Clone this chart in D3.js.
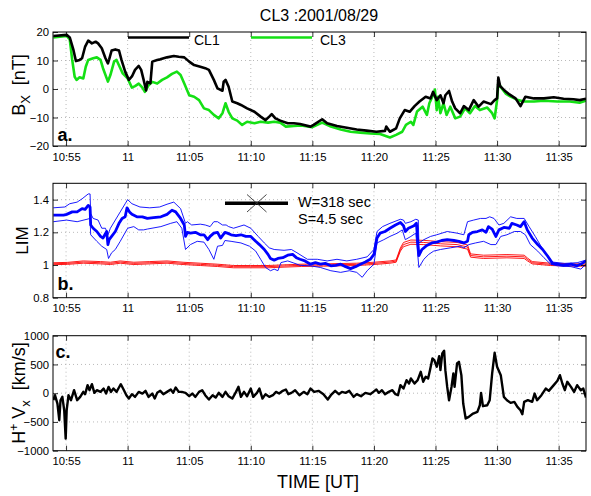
<!DOCTYPE html>
<html><head><meta charset="utf-8">
<script src="https://d3js.org/d3.v7.min.js"></script>
<style>
body{margin:0;background:#fff}
svg{display:block}
text{font-family:"Liberation Sans",Arial,Helvetica,sans-serif;fill:#000}
</style>
</head><body>
<svg id="chart" width="591" height="496"></svg>
<script>
// ---------------- DATA (time = minutes after 10:00 UT) ----------------
const xTickVals = [55,60,65,70,75,80,85,90,95];
const xTickLabels = ["10:55","11","11:05","11:10","11:15","11:20","11:25","11:30","11:35"];
const xDomain = [53.94,97.22];

const bxTicks = [-20,-10,0,10,20];
const bxTickLabels = ["\u221220","\u221210","0","10","20"];
const limTicks = [0.8,1,1.2,1.4];
const limTickLabels = ["0.8","1","1.2","1.4"];
const vxTicks = [-1000,-500,0,500,1000];
const vxTickLabels = ["\u22121000","\u2212500","0","500","1000"];

const seriesNames = ["CL1","CL3"];

// Panel a: Bx [nT]
const cl1Bx = [[53.97,18.6],[55.05,19],[55.3,18.1],[55.6,13.7],[55.8,9.8],[56.1,10.2],[56.3,10.8],[56.55,14.9],[56.8,17],[57.1,16],[57.4,16.6],[57.6,16],[57.9,14.3],[58.2,10.8],[58.4,9],[58.5,10.4],[58.7,13.5],[59.0,13.9],[59.3,13.5],[59.5,10.2],[59.8,6.1],[60.1,3.2],[60.35,4.4],[60.6,6.7],[60.9,8.1],[61.1,6.7],[61.3,3.2],[61.5,-0.5],[61.6,2.5],[61.85,2],[62.0,9.6],[62.4,10.2],[62.65,10.4],[63.2,11.1],[63.75,11.6],[64.15,11.3],[64.6,11.1],[65.0,9.6],[65.4,8.4],[65.9,7.8],[66.3,7.3],[66.6,6.7],[67.0,3.2],[67.3,0.2],[67.7,-0.6],[67.8,2.6],[67.95,3.2],[68.2,0.8],[68.5,-4.4],[68.9,-5],[69.2,-5.6],[69.7,-6.8],[70.3,-8],[70.8,-9.7],[71.2,-10.9],[71.5,-9.7],[71.7,-8.8],[72.0,-10.3],[72.4,-11.1],[73.0,-12],[73.5,-12],[74.0,-12.3],[74.85,-13.2],[75.1,-12.6],[75.8,-10.6],[76.2,-12],[77.0,-13],[77.8,-13.6],[78.6,-14.2],[79.4,-14.6],[80.2,-15],[80.9,-14.7],[81.0,-13.2],[81.3,-15],[81.8,-13.8],[82.1,-10.3],[82.5,-7.4],[82.9,-8],[83.3,-6],[83.7,-4.4],[84.2,-2.7],[84.6,-3.3],[84.8,-1],[85.1,-3.9],[85.4,-2.2],[85.65,-5],[85.8,-2.2],[86.1,-0.7],[86.35,-4.4],[86.6,-6.8],[87.0,-8.5],[87.3,-6],[87.7,-7.4],[88.1,-3.9],[88.5,-6.2],[88.9,-4.4],[89.5,-5.3],[89.8,-3.9],[90.0,-3.3],[90.1,4],[90.25,1],[90.6,-0.5],[91.0,-1.9],[91.5,-3.3],[91.9,-6],[92.3,-2.7],[93.0,-3.3],[93.8,-3.3],[94.6,-2.9],[95.4,-3.4],[96.2,-3.6],[96.7,-3.9],[97.22,-3.4]];

const cl3Bx = [[53.97,18.1],[55.05,18.6],[55.3,17.4],[55.5,10.2],[55.7,4.3],[55.85,3.2],[56.1,4.1],[56.4,3.7],[56.6,7.8],[56.8,10.2],[57.2,10.8],[57.5,11.1],[57.8,10.2],[58.0,7.3],[58.4,2.6],[58.6,4.9],[58.9,9.6],[59.1,10.2],[59.35,7.8],[59.6,5.5],[60.0,3.7],[60.35,0.5],[60.6,1],[60.9,1.9],[61.2,0.5],[61.4,-1],[61.7,1.3],[62.0,2.5],[62.4,1.9],[62.8,3.2],[63.2,4.1],[63.6,5.3],[64.0,6.1],[64.3,4.9],[64.6,1.9],[65.0,-2.2],[65.4,-2.7],[65.8,-3.9],[66.2,-6.8],[66.6,-7.4],[67.0,-9.1],[67.4,-10.3],[67.7,-8.5],[67.95,-5],[68.2,-8],[68.5,-10.3],[68.9,-11.1],[69.3,-12.6],[69.7,-11.5],[70.3,-12],[70.8,-11.5],[71.4,-11.8],[71.9,-11.5],[72.4,-11.8],[72.85,-13.2],[73.5,-13],[74.1,-12.8],[75.0,-13.4],[75.8,-11.8],[76.5,-13.2],[77.3,-14.2],[78.1,-15],[78.9,-15.3],[79.7,-15.6],[80.5,-15.8],[81.3,-17],[81.8,-16.1],[82.3,-15],[82.6,-12.6],[83.0,-11.5],[83.2,-12.6],[83.5,-7.9],[83.95,-6.2],[84.3,-9.1],[84.5,-5],[84.8,-2.2],[84.95,-0.2],[85.1,-7.4],[85.2,-2.7],[85.4,-8.5],[85.65,-5],[85.9,-9.1],[86.2,-6.2],[86.6,-10.3],[87.0,-9.7],[87.4,-6.8],[87.8,-8.5],[88.2,-6],[88.6,-7.4],[89.2,-6.5],[89.6,-8.5],[89.8,-10.3],[90.0,-3.9],[90.1,2.1],[90.4,0.1],[90.7,-1.6],[91.1,-2.7],[91.7,-3.9],[92.2,-4.4],[93.0,-4.4],[93.8,-4.1],[94.9,-4.4],[95.9,-4.4],[96.7,-4.8],[97.22,-4.1]];

// Panel b: LIM (blue: median + envelope, red: reference triplet)
const limMid = [[53.97,1.305],[54.8,1.305],[55.05,1.31],[55.5,1.325],[55.9,1.325],[56.3,1.345],[56.55,1.34],[56.8,1.365],[56.95,1.355],[57.0,1.245],[57.2,1.225],[57.5,1.205],[57.8,1.175],[58.0,1.165],[58.3,1.205],[58.4,1.125],[58.5,1.155],[58.7,1.175],[59.0,1.205],[59.3,1.255],[59.55,1.285],[59.8,1.295],[59.95,1.35],[60.15,1.325],[60.35,1.31],[60.75,1.295],[61.2,1.295],[61.6,1.285],[62.1,1.29],[62.7,1.295],[63.2,1.31],[63.6,1.335],[63.9,1.325],[64.3,1.285],[64.6,1.245],[64.7,1.175],[64.85,1.2],[65.1,1.195],[65.5,1.2],[65.9,1.185],[66.2,1.185],[66.5,1.155],[66.7,1.175],[67.0,1.195],[67.3,1.2],[67.55,1.165],[67.9,1.2],[68.1,1.195],[68.4,1.185],[68.8,1.18],[69.2,1.185],[69.6,1.175],[70.0,1.175],[70.4,1.145],[70.7,1.125],[71.1,1.095],[71.4,1.065],[71.6,1.04],[71.9,1.03],[72.2,1.04],[72.6,1.045],[73.0,1.06],[73.4,1.065],[73.7,1.045],[74.0,1.035],[74.4,1.025],[74.85,1.005],[75.25,1.015],[75.65,1.005],[76.05,1.01],[76.5,0.995],[76.9,0.998],[77.3,1.005],[77.7,0.99],[78.1,0.978],[78.5,0.99],[78.9,1.005],[79.3,1.018],[79.7,1.035],[80.0,1.065],[80.25,1.165],[80.5,1.195],[80.9,1.205],[81.3,1.225],[81.75,1.245],[82.15,1.26],[82.4,1.24],[82.55,1.205],[82.8,1.225],[83.25,1.24],[83.45,1.255],[83.65,1.058],[83.9,1.095],[84.3,1.12],[84.7,1.135],[85.1,1.14],[85.5,1.15],[85.95,1.155],[86.5,1.15],[86.9,1.145],[87.3,1.135],[87.6,1.145],[87.7,1.185],[88.0,1.2],[88.4,1.205],[88.8,1.215],[89.1,1.2],[89.3,1.235],[89.6,1.22],[89.9,1.175],[90.15,1.215],[90.55,1.23],[91.0,1.225],[91.2,1.255],[91.6,1.245],[91.9,1.235],[92.2,1.265],[92.45,1.215],[92.85,1.165],[93.3,1.125],[93.7,1.095],[94.1,1.055],[94.5,1.01],[94.9,1.005],[95.4,0.998],[96.0,1.005],[96.5,0.995],[96.9,1.01],[97.22,1.025]];

const limUp = [[53.97,1.35],[54.9,1.355],[55.3,1.375],[55.9,1.385],[56.3,1.405],[56.8,1.435],[56.95,1.435],[57.0,1.315],[57.2,1.285],[57.6,1.275],[57.9,1.225],[58.2,1.225],[58.4,1.185],[58.6,1.225],[59.0,1.275],[59.4,1.325],[59.8,1.375],[60.0,1.4],[60.35,1.375],[61.0,1.355],[61.8,1.35],[62.6,1.355],[63.2,1.372],[63.75,1.385],[64.3,1.345],[64.7,1.255],[64.85,1.265],[65.2,1.245],[65.9,1.25],[66.3,1.245],[66.7,1.235],[67.0,1.265],[67.3,1.265],[67.7,1.245],[68.0,1.245],[68.2,1.235],[68.6,1.225],[69.45,1.245],[70.0,1.225],[70.6,1.175],[71.1,1.135],[71.5,1.105],[71.9,1.095],[72.7,1.09],[73.3,1.095],[73.75,1.075],[74.6,1.035],[75.4,1.035],[76.2,1.025],[77.0,1.035],[77.8,1.025],[78.6,1.035],[79.45,1.05],[80.0,1.095],[80.25,1.205],[80.7,1.235],[81.3,1.255],[82.15,1.28],[82.4,1.275],[82.55,1.255],[83.0,1.265],[83.4,1.28],[83.6,1.275],[83.65,1.135],[84.05,1.155],[84.6,1.175],[85.1,1.185],[85.95,1.205],[86.75,1.195],[87.3,1.185],[87.6,1.265],[88.1,1.275],[88.65,1.285],[89.1,1.285],[89.4,1.295],[89.75,1.285],[90.15,1.245],[90.55,1.255],[91.1,1.295],[91.6,1.285],[92.2,1.285],[92.6,1.235],[93.1,1.175],[93.8,1.085],[94.5,1.018],[95.5,1.01],[96.5,1.014],[97.22,1.03]];

const limLo = [[53.97,1.265],[55.05,1.275],[55.9,1.265],[56.7,1.28],[56.95,1.285],[57.0,1.185],[57.5,1.145],[57.9,1.115],[58.3,1.095],[58.45,1.04],[58.7,1.075],[59.0,1.095],[59.4,1.145],[60.0,1.225],[60.5,1.235],[60.9,1.215],[61.3,1.215],[61.6,1.22],[62.7,1.235],[63.5,1.255],[64.0,1.265],[64.4,1.225],[64.7,1.095],[65.1,1.125],[65.65,1.145],[66.2,1.14],[66.6,1.095],[67.0,1.035],[67.3,1.115],[67.7,1.12],[67.9,1.15],[68.4,1.145],[69.2,1.135],[69.9,1.115],[70.4,1.085],[70.8,1.035],[71.2,0.985],[71.6,0.965],[71.9,0.975],[72.2,0.965],[72.45,1.015],[73.0,1.025],[73.5,1.012],[74.0,0.998],[74.85,0.995],[75.65,0.985],[76.5,0.965],[77.3,0.955],[78.0,0.965],[78.6,0.955],[79.05,0.925],[79.45,0.965],[80.0,1.005],[80.25,1.135],[80.8,1.155],[81.3,1.175],[81.9,1.195],[82.3,1.215],[82.55,1.155],[83.0,1.175],[83.4,1.195],[83.65,0.985],[84.05,1.035],[84.45,1.065],[84.85,1.085],[85.4,1.095],[86.2,1.105],[87.0,1.115],[87.3,1.105],[87.7,1.125],[88.25,1.135],[88.9,1.145],[89.5,1.125],[89.9,1.125],[90.3,1.175],[90.8,1.185],[91.4,1.205],[91.9,1.205],[92.3,1.185],[92.7,1.125],[93.3,1.085],[93.8,1.045],[94.35,1.005],[94.9,0.995],[96.0,0.99],[96.8,0.975],[97.22,1.005]];

const refMid = [[53.97,1.008],[55.1,1.01],[56.4,1.018],[57.8,1.014],[58.6,1.01],[59.4,1.018],[60.5,1.01],[61.8,1.014],[63.2,1.018],[64.5,1.01],[65.9,1.004],[67.3,0.998],[68.6,0.99],[70.0,0.99],[71.4,0.99],[72.7,0.994],[74.1,0.998],[75.9,1.0],[78.6,1.004],[80.0,1.01],[81.3,1.018],[81.8,1.024],[82.15,1.095],[82.4,1.125],[83.0,1.14],[84.05,1.138],[85.4,1.13],[86.75,1.125],[87.6,1.11],[87.85,1.058],[88.9,1.05],[90.8,1.054],[92.2,1.05],[92.45,1.035],[92.85,1.014],[94.35,1.004],[96.2,1.0],[97.22,1.0]];
const refHi = [[53.97,1.014],[55.1,1.016],[56.4,1.025],[57.8,1.021],[58.6,1.017],[59.4,1.025],[60.5,1.017],[61.8,1.021],[63.2,1.025],[64.5,1.017],[65.9,1.011],[67.3,1.005],[68.6,0.997],[70.0,0.997],[71.4,0.997],[72.7,1.001],[74.1,1.005],[75.9,1.007],[78.6,1.011],[80.0,1.017],[81.3,1.025],[81.8,1.031],[82.15,1.105],[82.4,1.138],[83.0,1.153],[84.05,1.151],[85.4,1.143],[86.75,1.138],[87.6,1.123],[87.85,1.068],[88.9,1.06],[90.8,1.064],[92.2,1.06],[92.45,1.044],[92.85,1.021],[94.35,1.011],[96.2,1.007],[97.22,1.007]];
const refLo = [[53.97,1.002],[55.1,1.004],[56.4,1.011],[57.8,1.007],[58.6,1.003],[59.4,1.011],[60.5,1.003],[61.8,1.007],[63.2,1.011],[64.5,1.003],[65.9,0.997],[67.3,0.991],[68.6,0.983],[70.0,0.983],[71.4,0.983],[72.7,0.987],[74.1,0.991],[75.9,0.993],[78.6,0.997],[80.0,1.003],[81.3,1.011],[81.8,1.017],[82.15,1.085],[82.4,1.112],[83.0,1.127],[84.05,1.125],[85.4,1.117],[86.75,1.112],[87.6,1.097],[87.85,1.048],[88.9,1.04],[90.8,1.044],[92.2,1.04],[92.45,1.026],[92.85,1.007],[94.35,0.997],[96.2,0.993],[97.22,0.993]];

// Panel c: H+ Vx [km/s]
const hVx = [[53.97,-122],[54.1,-35],[54.3,-180],[54.45,-470],[54.55,-122],[54.7,-64],[54.85,-296],[54.97,-790],[55.05,-296],[55.2,-35],[55.4,-122],[55.65,52],[55.9,-122],[56.15,-64],[56.4,23],[56.55,-17],[56.75,140],[56.9,52],[57.1,157],[57.3,6],[57.5,52],[57.8,23],[58.05,81],[58.25,-6],[58.45,110],[58.65,23],[58.85,81],[59.1,23],[59.25,81],[59.45,157],[59.7,52],[59.9,-35],[60.1,-93],[60.35,-17],[60.6,-64],[60.9,23],[61.2,-6],[61.45,41],[61.7,-64],[62.0,-6],[62.2,-93],[62.4,6],[62.65,41],[62.9,-17],[63.2,23],[63.5,64],[63.7,6],[63.9,99],[64.15,23],[64.4,23],[64.7,6],[65.0,-52],[65.25,-6],[65.5,-64],[65.8,23],[66.05,52],[66.3,-35],[66.6,-110],[66.9,-35],[67.15,-76],[67.4,6],[67.7,-64],[67.95,23],[68.2,-52],[68.5,-93],[68.8,23],[69.0,110],[69.2,-64],[69.45,23],[69.7,-52],[70.0,81],[70.2,-64],[70.5,6],[70.7,81],[70.95,-93],[71.2,-17],[71.5,-64],[71.8,-35],[72.05,23],[72.3,-6],[72.6,41],[72.85,64],[73.05,-17],[73.3,6],[73.6,52],[73.95,-35],[74.3,23],[74.6,-17],[74.85,81],[75.15,23],[75.5,41],[75.9,-17],[76.25,-110],[76.5,-35],[76.85,41],[77.15,-17],[77.4,23],[77.7,6],[78.0,41],[78.35,-64],[78.6,-17],[78.95,-52],[79.3,6],[79.7,-17],[79.95,23],[80.2,64],[80.4,6],[80.65,52],[80.9,-17],[81.2,23],[81.5,52],[81.75,-17],[81.95,-35],[82.15,140],[82.4,81],[82.65,227],[82.85,169],[83.0,256],[83.3,169],[83.55,227],[83.8,372],[84.0,198],[84.2,285],[84.4,256],[84.55,401],[84.75,604],[84.9,575],[85.1,459],[85.3,645],[85.4,401],[85.55,691],[85.7,738],[85.8,401],[85.95,110],[86.1,-122],[86.3,110],[86.45,343],[86.55,110],[86.75,517],[86.9,546],[87.1,314],[87.25,-180],[87.45,-441],[87.7,-412],[88.05,-354],[88.4,-325],[88.6,-209],[88.7,6],[88.85,-226],[89.2,-209],[89.4,-122],[89.6,343],[89.8,703],[90.0,459],[90.3,314],[90.55,-64],[90.8,-122],[91.1,-168],[91.4,-151],[91.65,-238],[91.9,-296],[92.05,-366],[92.2,-151],[92.5,-122],[92.85,-151],[93.05,-6],[93.25,-122],[93.6,-35],[93.95,81],[94.2,41],[94.6,140],[94.9,215],[95.1,314],[95.3,169],[95.5,52],[95.7,198],[96.0,110],[96.25,23],[96.5,140],[96.8,52],[97.0,81],[97.22,-76]];

// ---------------- DRAWING ----------------
const svg = d3.select("#chart");
const L = 53, R = 586;
const x = d3.scaleLinear().domain(xDomain).range([L, R]);
const FONT = '"Liberation Sans",Arial,Helvetica,sans-serif';
const GREEN = "#14e014";

const panels = [
  {id:"a", top:32, bottom:146, domain:[-20,20], ticks:bxTicks, labels:bxTickLabels},
  {id:"b", top:183.3, bottom:297.7, domain:[0.8,1.5], ticks:limTicks, labels:limTickLabels},
  {id:"c", top:335.7, bottom:450.7, domain:[-1000,1000], ticks:vxTicks, labels:vxTickLabels}
];

panels.forEach(p => {
  p.y = d3.scaleLinear().domain(p.domain).range([p.bottom, p.top]);
  const g = svg.append("g");
  p.g = g;
  svg.append("clipPath").attr("id","clip-"+p.id)
    .append("rect").attr("x",L).attr("y",p.top).attr("width",R-L).attr("height",p.bottom-p.top);
  const grid = g.append("g").attr("stroke","#a8a8a8").attr("stroke-width",0.8).attr("stroke-dasharray","1,3");
  grid.selectAll("line.vx").data(xTickVals).join("line")
    .attr("x1",d=>x(d)).attr("x2",d=>x(d)).attr("y1",p.top).attr("y2",p.bottom);
  grid.selectAll("line.hy").data(p.ticks.filter(t=>t>p.domain[0] && t<p.domain[1])).join("line")
    .attr("x1",L).attr("x2",R).attr("y1",d=>p.y(d)).attr("y2",d=>p.y(d));
  p.plot = g.append("g").attr("clip-path","url(#clip-"+p.id+")");
});

function styleAxis(sel, showLabels){
  sel.select(".domain").remove();
  sel.selectAll(".tick line").attr("stroke","#000").attr("stroke-width",0.8);
  sel.selectAll(".tick text").attr("font-size",11.3).attr("font-family",FONT).attr("fill","#000");
  if(!showLabels) sel.selectAll(".tick text").remove();
}

const line = (p) => d3.line().x(d=>x(d[0])).y(d=>p.y(d[1]));

// Panel a
{
  const p = panels[0];
  p.plot.append("path").datum(cl3Bx).attr("d",line(p)).attr("fill","none").attr("stroke",GREEN).attr("stroke-width",2.6).attr("stroke-linejoin","round");
  p.plot.append("path").datum(cl1Bx).attr("d",line(p)).attr("fill","none").attr("stroke","#000").attr("stroke-width",2.6).attr("stroke-linejoin","round");
}
// Panel b
{
  const p = panels[1];
  [refHi, refMid, refLo].forEach(s => {
    p.plot.append("path").datum(s).attr("d",line(p)).attr("fill","none").attr("stroke","#ff0000").attr("stroke-width",0.9);
  });
  [limUp, limLo].forEach(s => {
    p.plot.append("path").datum(s).attr("d",line(p)).attr("fill","none").attr("stroke","#0000ff").attr("stroke-width",0.9);
  });
  p.plot.append("path").datum(limMid).attr("d",line(p)).attr("fill","none").attr("stroke","#0000ff").attr("stroke-width",2.8).attr("stroke-linejoin","round");
}
// Panel c
{
  const p = panels[2];
  p.plot.append("path").datum(hVx).attr("d",line(p)).attr("fill","none").attr("stroke","#000").attr("stroke-width",2.4).attr("stroke-linejoin","round");
}

// Axes + frames
panels.forEach(p => {
  const g = p.g;
  const xb = d3.axisBottom(x).tickValues(xTickVals).tickFormat((d,i)=>xTickLabels[i]).tickSizeInner(-5).tickSizeOuter(0).tickPadding(6.6);
  g.append("g").attr("transform",`translate(0,${p.bottom})`).call(xb).call(s=>styleAxis(s,true));
  const xt = d3.axisTop(x).tickValues(xTickVals).tickSizeInner(-5).tickSizeOuter(0);
  g.append("g").attr("transform",`translate(0,${p.top})`).call(xt).call(s=>styleAxis(s,false));
  const yl = d3.axisLeft(p.y).tickValues(p.ticks).tickFormat((d,i)=>p.labels[i]).tickSizeInner(-5).tickSizeOuter(0).tickPadding(4);
  g.append("g").attr("transform",`translate(${L},0)`).call(yl).call(s=>styleAxis(s,true));
  const yr = d3.axisRight(p.y).tickValues(p.ticks).tickSizeInner(-5).tickSizeOuter(0);
  g.append("g").attr("transform",`translate(${R},0)`).call(yr).call(s=>styleAxis(s,false));
  g.append("rect").attr("x",L).attr("y",p.top).attr("width",R-L).attr("height",p.bottom-p.top)
    .attr("fill","none").attr("stroke","#000").attr("stroke-width",1);
});

// Title
svg.append("text").attr("x",319).attr("y",20.5).attr("text-anchor","middle").attr("font-size",16).text("CL3 :2001/08/29");

// Legend panel a
svg.append("line").attr("x1",128).attr("x2",189).attr("y1",37.5).attr("y2",37.5).attr("stroke","#000").attr("stroke-width",2.5);
svg.append("text").attr("x",194).attr("y",45).attr("font-size",14).text(seriesNames[0]);
svg.append("line").attr("x1",251).attr("x2",312).attr("y1",37.5).attr("y2",37.5).attr("stroke",GREEN).attr("stroke-width",2.5);
svg.append("text").attr("x",320).attr("y",45).attr("font-size",14).text(seriesNames[1]);

// Legend panel b
svg.append("line").attr("x1",225).attr("x2",288).attr("y1",203.3).attr("y2",203.3).attr("stroke","#000").attr("stroke-width",3.5);
svg.append("path").attr("d","M247,194.5L266.5,212M247,212L266.5,194.5").attr("stroke","#333").attr("stroke-width",0.9).attr("fill","none");
svg.append("text").attr("x",298).attr("y",206.5).attr("font-size",14.5).text("W=318 sec");
svg.append("text").attr("x",298).attr("y",223.5).attr("font-size",14.5).text("S=4.5 sec");

// Panel letters
svg.append("text").attr("x",57.5).attr("y",140.5).attr("font-size",18).attr("font-weight","bold").text("a.");
svg.append("text").attr("x",57.5).attr("y",289.5).attr("font-size",18).attr("font-weight","bold").text("b.");
svg.append("text").attr("x",55.5).attr("y",357.5).attr("font-size",18).attr("font-weight","bold").text("c.");

// Y labels
{
  const t = svg.append("text").attr("transform","translate(25,85) rotate(-90)").attr("text-anchor","middle").attr("font-size",18);
  t.append("tspan").text("B");
  t.append("tspan").attr("font-size",13).attr("dy",5).text("X");
  t.append("tspan").attr("dy",-5).text("\u00a0 [nT]");
}
svg.append("text").attr("transform","translate(28,240.5) rotate(-90)").attr("text-anchor","middle").attr("font-size",17).text("LIM");
{
  const t = svg.append("text").attr("transform","translate(25,393) rotate(-90)").attr("text-anchor","middle").attr("font-size",18);
  t.append("tspan").text("H");
  t.append("tspan").attr("font-size",12).attr("dy",-7).text("+");
  t.append("tspan").attr("dy",7).text(" V");
  t.append("tspan").attr("font-size",13).attr("dy",5).text("x");
  t.append("tspan").attr("dy",-5).text("\u00a0 [km/s]");
}
// X label
svg.append("text").attr("x",318).attr("y",488).attr("text-anchor","middle").attr("font-size",18).text("TIME [UT]");
</script>
</body></html>
